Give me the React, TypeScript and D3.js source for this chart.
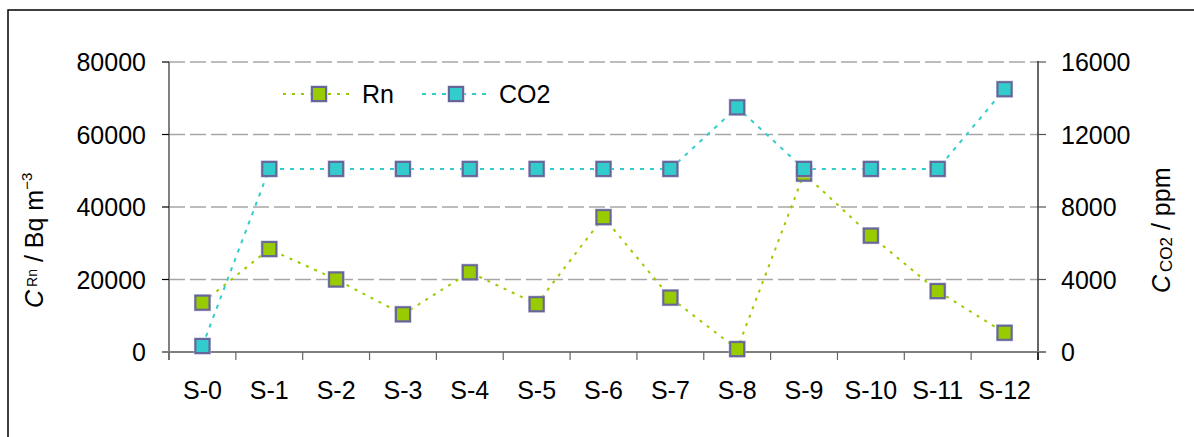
import React from "react";
import * as d3 from "d3";

const categories = ["S-0", "S-1", "S-2", "S-3", "S-4", "S-5", "S-6", "S-7", "S-8", "S-9", "S-10", "S-11", "S-12"];
const rnValues = [13600, 28400, 20000, 10400, 22000, 13200, 37200, 15000, 800, 49200, 32100, 16800, 5300];
const co2Values = [330, 10100, 10100, 10100, 10100, 10100, 10100, 10100, 13500, 10100, 10100, 10100, 14500];
const leftTicks = [0, 20000, 40000, 60000, 80000];
const rightTicks = [0, 4000, 8000, 12000, 16000];
const seriesNames = ["Rn", "CO2"];

const W = 1194;
const H = 437;
const plot = { left: 169, right: 1038, top: 62, bottom: 352 };
const FONT = "Arial, 'Liberation Sans', Helvetica, sans-serif";
const GREEN = "#99CC00";
const CYAN = "#33CCCC";
const MARK_STROKE = "#666699";

function Marker({ cx, cy, fill }: { cx: number; cy: number; fill: string }) {
  const s = 14;
  return (
    <g>
      <rect x={cx - s / 2 - 1} y={cy - s / 2 - 1} width={s + 2} height={s + 2} fill="none" stroke="#B8B8D6" strokeWidth={1} />
      <rect x={cx - s / 2} y={cy - s / 2} width={s} height={s} fill={fill} stroke={MARK_STROKE} strokeWidth={2} />
    </g>
  );
}

export default function App() {
  const x = d3.scaleBand<string>().domain(categories).range([plot.left, plot.right]).padding(0);
  const yL = d3.scaleLinear().domain([0, 80000]).range([plot.bottom, plot.top]);
  const yR = d3.scaleLinear().domain([0, 16000]).range([plot.bottom, plot.top]);
  const cx = (c: string) => (x(c) as number) + x.bandwidth() / 2;

  const rnLine = d3.line<number>().x((_, i) => cx(categories[i])).y((d) => yL(d))(rnValues) || "";
  const co2Line = d3.line<number>().x((_, i) => cx(categories[i])).y((d) => yR(d))(co2Values) || "";

  const boundaries = categories.map((c) => x(c) as number).concat([plot.right]);

  return (
    <svg width={W} height={H} style={{ position: "absolute", left: 0, top: 0, background: "#fff" }} fontFamily={FONT}>
      <rect x={0} y={0} width={W} height={H} fill="#fff" />
      {/* outer frame */}
      <rect x={8} y={10} width={W + 50} height={H + 50} fill="none" stroke="#000" strokeWidth={1.5} />

      {/* gridlines */}
      {leftTicks.filter((t) => t > 0).map((t) => (
        <line key={t} x1={plot.left} x2={plot.right} y1={yL(t)} y2={yL(t)} stroke="#A6A6A6" strokeWidth={1.5} strokeDasharray="16,5" />
      ))}

      {/* left axis */}
      <line x1={plot.left} x2={plot.left} y1={plot.top} y2={plot.bottom + 8} stroke="#808080" strokeWidth={2} />
      {leftTicks.map((t) => (
        <g key={t}>
          <line x1={plot.left - 7} x2={plot.left} y1={yL(t)} y2={yL(t)} stroke="#000" strokeWidth={1.2} />
          <text x={146} y={yL(t) + 9} textAnchor="end" fontSize={25} fill="#000">{t}</text>
        </g>
      ))}

      {/* right axis */}
      <line x1={plot.right} x2={plot.right} y1={plot.top - 1} y2={plot.bottom + 8} stroke="#000" strokeWidth={1.2} />
      {rightTicks.map((t) => (
        <g key={t}>
          <line x1={plot.right} x2={plot.right + 8} y1={yR(t)} y2={yR(t)} stroke="#555" strokeWidth={1.2} />
          <text x={1061} y={yR(t) + 9} textAnchor="start" fontSize={25} fill="#000">{t}</text>
        </g>
      ))}

      {/* x axis */}
      <line x1={plot.left - 7} x2={plot.right + 8} y1={plot.bottom} y2={plot.bottom} stroke="#808080" strokeWidth={2} />
      {boundaries.map((b, i) => (
        <line key={i} x1={b} x2={b} y1={plot.bottom} y2={plot.bottom + 8} stroke={i === boundaries.length - 1 ? "#000" : "#666"} strokeWidth={1.2} />
      ))}
      {categories.map((c) => (
        <text key={c} x={cx(c)} y={399} textAnchor="middle" fontSize={25} fill="#000">{c}</text>
      ))}

      {/* Rn series */}
      <path d={rnLine} fill="none" stroke={GREEN} strokeWidth={2} strokeDasharray="3,6" />
      {rnValues.map((v, i) => (
        <Marker key={"rn" + i} cx={cx(categories[i])} cy={yL(v)} fill={GREEN} />
      ))}

      {/* CO2 series */}
      <path d={co2Line} fill="none" stroke={CYAN} strokeWidth={2} strokeDasharray="4,6" />
      {co2Values.map((v, i) => (
        <Marker key={"co2" + i} cx={cx(categories[i])} cy={yR(v)} fill={CYAN} />
      ))}

      {/* legend */}
      <line x1={283} x2={350} y1={94} y2={94} stroke={GREEN} strokeWidth={2} strokeDasharray="3,6" />
      <Marker cx={319} cy={94} fill={GREEN} />
      <text x={362} y={103} fontSize={25} fill="#000">{seriesNames[0]}</text>
      <line x1={422} x2={487} y1={94} y2={94} stroke={CYAN} strokeWidth={2} strokeDasharray="4,6" />
      <Marker cx={456} cy={94} fill={CYAN} />
      <text x={499} y={103} fontSize={25} fill="#000">{seriesNames[1]}</text>

      {/* left axis title */}
      <text transform="translate(43,308) rotate(-90)" fontSize={25} fill="#000">
        <tspan fontStyle="italic">C</tspan>
        <tspan fontSize={14} dx={3} dy={-6}>Rn</tspan>
        <tspan dy={6}> / Bq m</tspan>
        <tspan fontSize={15} dy={-11}>−3</tspan>
      </text>

      {/* right axis title */}
      <text transform="translate(1170,293) rotate(-90)" fontSize={25} fill="#000">
        <tspan fontStyle="italic">C</tspan>
        <tspan fontSize={17} dx={3} dy={2}>CO2</tspan>
        <tspan dy={-2}> / ppm</tspan>
      </text>
    </svg>
  );
}
